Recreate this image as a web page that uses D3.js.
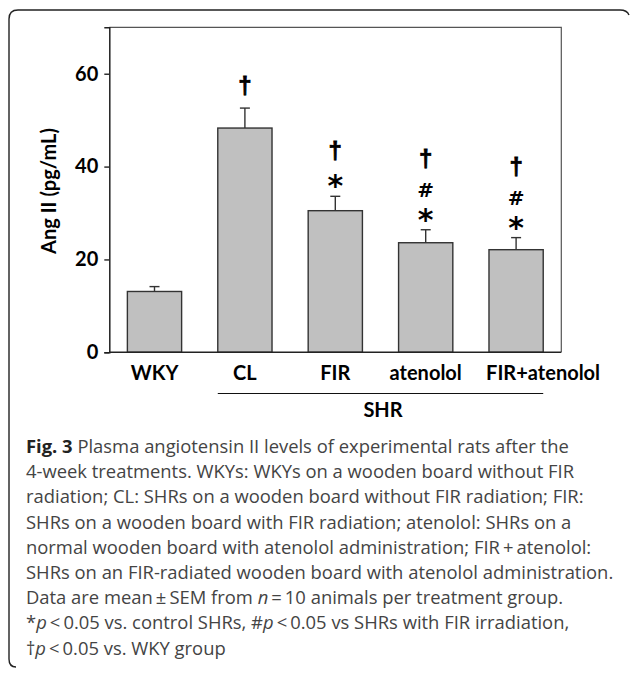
<!DOCTYPE html>
<html>
<head>
<meta charset="utf-8">
<script src="https://cdn.jsdelivr.net/npm/d3@7"></script>
<style>
html,body{margin:0;padding:0;background:#fff;}
svg{display:block;}
</style>
</head>
<body>
<svg id="chart" width="630" height="676"></svg>
<script>
// ---- data ----
const categories = ["WKY", "CL", "FIR", "atenolol", "FIR+atenolol"];
const means = [13.1, 48.3, 30.5, 23.6, 22.1];
const sems = [1.05, 4.3, 3.1, 2.8, 2.6];
const marks = [[], ["†"], ["*", "†"], ["*", "#", "†"], ["*", "#", "†"]];
const yTicks = [0, 20, 40, 60];
const yLabel = "Ang II (pg/mL)";
const groupLabel = "SHR";
const groupMembers = ["CL", "FIR", "atenolol", "FIR+atenolol"];

const svg = d3.select("#chart");

// outer rounded box (bottom and right edges cropped as in the source)
svg.append("path")
  .attr("d", "M16,667 Q9,667 9,659 V19 Q9,10 18,10 H620 Q627,10 629,15")
  .attr("fill", "none").attr("stroke", "#222").attr("stroke-width", 1.4);

const plot = {left: 109.3, right: 561.3, top: 27.3, bottom: 352.3};
const x = d3.scaleBand().domain(categories).range([plot.left, plot.right])
  .paddingInner(0.4).paddingOuter(0.2);
const y = d3.scaleLinear().domain([0, 70]).range([plot.bottom, plot.top]);

const FONT = "Lato, 'Open Sans', sans-serif";

// frame (top & right)
svg.append("path")
  .attr("d", `M${plot.left},${plot.top}H${plot.right}V${plot.bottom}`)
  .attr("fill", "none").attr("stroke", "#555").attr("stroke-width", 1.2);

// bars
svg.selectAll("rect.bar").data(categories).enter().append("rect")
  .attr("class", "bar")
  .attr("x", d => x(d))
  .attr("width", x.bandwidth())
  .attr("y", (d, i) => y(means[i]))
  .attr("height", (d, i) => y(0) - y(means[i]))
  .attr("fill", "#c0c0c0").attr("stroke", "#333").attr("stroke-width", 1.4);

// error bars (upper only)
const capW = 10;
categories.forEach((c, i) => {
  const cx = x(c) + x.bandwidth() / 2;
  svg.append("line").attr("x1", cx).attr("x2", cx)
    .attr("y1", y(means[i])).attr("y2", y(means[i] + sems[i]))
    .attr("stroke", "#333").attr("stroke-width", 1.4);
  svg.append("line").attr("x1", cx - capW / 2).attr("x2", cx + capW / 2)
    .attr("y1", y(means[i] + sems[i])).attr("y2", y(means[i] + sems[i]))
    .attr("stroke", "#333").attr("stroke-width", 1.4);
});

// significance marks
const symH = {"*": 23, "#": 25.5, "†": 33.5};
const symSize = {"*": 30, "#": 20, "†": 24};
const symDy = {"*": 15.5, "#": 7.2, "†": 6.5};
const symFont = {"*": "'DejaVu Sans', sans-serif", "#": "'DejaVu Sans', sans-serif", "†": "'Liberation Sans', Arial, sans-serif"};
categories.forEach((c, i) => {
  const cx = x(c) + x.bandwidth() / 2;
  let bottom = y(means[i] + sems[i]) - 4;
  marks[i].forEach(s => {
    const cy = bottom - symH[s] / 2;
    svg.append("text").attr("x", cx).attr("y", cy + symDy[s])
      .attr("text-anchor", "middle")
      .attr("font-family", symFont[s]).attr("font-weight", 700)
      .attr("font-size", symSize[s]).attr("fill", "#000")
      .attr("stroke", s === "†" ? "#000" : "none").attr("stroke-width", 0.8)
      .text(s);
    bottom -= symH[s];
  });
});

// y axis
const yAxis = svg.append("g").attr("transform", `translate(${plot.left},0)`)
  .call(d3.axisLeft(y).tickValues(yTicks).tickSize(5).tickPadding(6).tickFormat(d3.format("d")));
yAxis.select(".domain").attr("stroke", "#222").attr("stroke-width", 1.5);
yAxis.selectAll(".tick line").attr("stroke", "#222").attr("stroke-width", 1.4);
yAxis.selectAll(".tick text").attr("font-family", FONT).attr("font-weight", 700)
  .attr("font-size", 20).attr("fill", "#000");

// x axis
const labelShift = {"FIR+atenolol": 27};
const xAxis = svg.append("g").attr("transform", `translate(0,${plot.bottom})`)
  .call(d3.axisBottom(x).tickSize(0).tickPadding(13.5));
xAxis.select(".domain").attr("d", `M${plot.left},0H${plot.right}`)
  .attr("stroke", "#222").attr("stroke-width", 1.6);
xAxis.selectAll(".tick text").attr("font-family", FONT).attr("font-weight", 700)
  .attr("font-size", 20).attr("fill", "#000")
  .attr("dx", d => labelShift[d] || 0);

// y label
svg.append("text")
  .attr("transform", `translate(56,${(115 + 267) / 2}) rotate(-90)`)
  .attr("text-anchor", "middle")
  .attr("font-family", FONT).attr("font-weight", 700).attr("font-size", 20)
  .attr("fill", "#000").text(yLabel);

// SHR group line
const gx1 = x(groupMembers[0]);
const gx2 = x(groupMembers[groupMembers.length - 1]) + x.bandwidth();
svg.append("line").attr("x1", gx1).attr("x2", gx2).attr("y1", 393.5).attr("y2", 393.5)
  .attr("stroke", "#111").attr("stroke-width", 1.2);
svg.append("text").attr("x", (gx1 + gx2) / 2 + 2.5).attr("y", 417)
  .attr("text-anchor", "middle")
  .attr("font-family", FONT).attr("font-weight", 700).attr("font-size", 20)
  .attr("fill", "#000").text(groupLabel);

// caption
const capLines = [
  [["Fig. 3", "b"], [" Plasma angiotensin II levels of experimental rats after the", ""]],
  [["4-week treatments. WKYs: WKYs on a wooden board without FIR", ""]],
  [["radiation; CL: SHRs on a wooden board without FIR radiation; FIR:", ""]],
  [["SHRs on a wooden board with FIR radiation; atenolol: SHRs on a", ""]],
  [["normal wooden board with atenolol administration; FIR\u2009+\u2009atenolol:", ""]],
  [["SHRs on an FIR-radiated wooden board with atenolol administration.", ""]],
  [["Data are mean\u2009\u00b1\u2009SEM from ", ""], ["n", "i"], ["\u2009=\u200910 animals per treatment group.", ""]],
  [["*", ""], ["p", "i"], ["\u2009<\u20090.05 vs. control SHRs, #", ""], ["p", "i"], ["\u2009<\u20090.05 vs SHRs with FIR irradiation,", ""]],
  [["\u2020", ""], ["p", "i"], ["\u2009<\u20090.05 vs. WKY group", ""]]
];
const cap = svg.append("g");
capLines.forEach((ln, k) => {
  const t = cap.append("text").attr("x", 26).attr("y", 453 + k * 25.2)
    .attr("font-family", "'Open Sans', sans-serif").attr("font-size", 18.4)
    .attr("font-weight", 400)
    .attr("fill", "#444");
  ln.forEach(([s, st]) => {
    const ts = t.append("tspan").text(s);
    if (st === "b") ts.attr("font-weight", 700).attr("fill", "#222");
    if (st === "i") ts.attr("font-style", "italic");
  });
});
</script>
</body>
</html>
